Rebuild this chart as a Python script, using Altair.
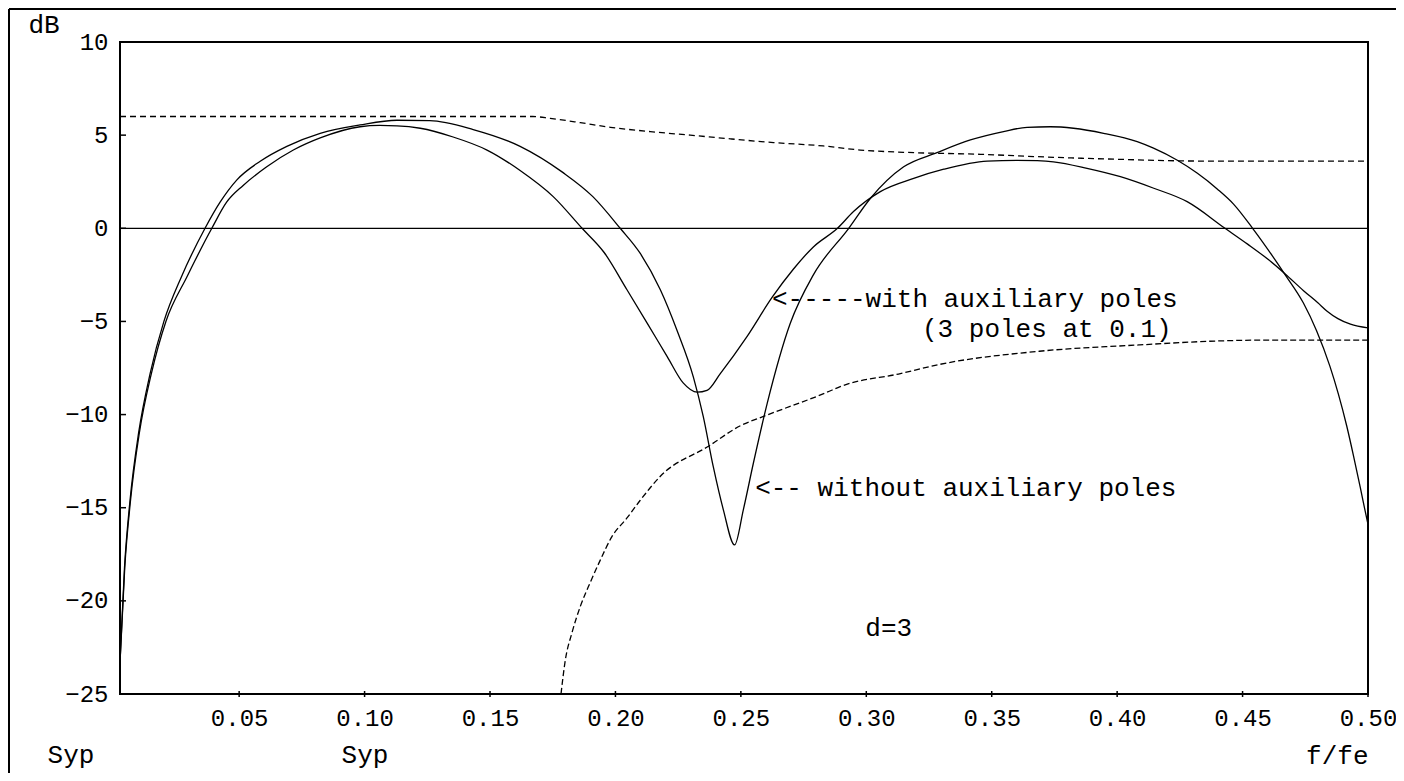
import altair as alt
import pandas as pd

# ---- data -------------------------------------------------------------------
# "with auxiliary poles" response (shallow dip near 0.233)
A_f = [0.0025, 0.0044, 0.0067, 0.0102, 0.0150, 0.0208, 0.0292, 0.0391, 0.0450,
       0.0516, 0.0610, 0.0716, 0.0823, 0.0982, 0.1060, 0.1129, 0.1222, 0.1353, 0.1488,
       0.1620, 0.1752, 0.1867, 0.1955, 0.2046, 0.2127, 0.2207, 0.2270, 0.2326, 0.2365,
       0.2418, 0.2525, 0.2625, 0.2709, 0.2789, 0.2885, 0.2949, 0.3056, 0.3189, 0.3309,
       0.3482, 0.3600, 0.3681, 0.3746, 0.3880, 0.4013, 0.4146, 0.4279, 0.4430, 0.4520,
       0.4600, 0.4670, 0.4743, 0.4800, 0.4837, 0.4880, 0.4930, 0.5000]
A_db = [-23.3, -18.2, -14.6, -11.0, -7.8, -5.0, -2.6, 0.0, 1.4,
        2.3, 3.3, 4.2, 4.85, 5.45, 5.52, 5.5, 5.37, 4.9, 4.2,
        3.1, 1.7, 0.0, -1.3, -3.3, -5.1, -6.9, -8.3, -8.8, -8.7,
        -7.8, -5.8, -3.7, -2.2, -1.0, 0.0, 0.9, 1.97, 2.68, 3.17,
        3.61, 3.65, 3.63, 3.57, 3.22, 2.77, 2.15, 1.43, 0.0, -0.85,
        -1.65, -2.45, -3.35, -4.0, -4.45, -4.85, -5.15, -5.35]

# "without auxiliary poles" response (deep notch near 0.248)
B_f = [0.0025, 0.0043, 0.0065, 0.0099, 0.0145, 0.0200, 0.0270, 0.0364, 0.0424,
       0.0491, 0.0584, 0.0690, 0.0823, 0.0982, 0.1129, 0.1260, 0.1433, 0.1620, 0.1790,
       0.1910, 0.2019, 0.2099, 0.2179, 0.2246, 0.2311, 0.2350, 0.2390, 0.2430, 0.2475,
       0.2510, 0.2550, 0.2605, 0.2697, 0.2789, 0.2930, 0.3016, 0.3149, 0.3282, 0.3415,
       0.3547, 0.3641, 0.3733, 0.3826, 0.3946, 0.4080, 0.4145, 0.4240, 0.4320, 0.4400,
       0.4464, 0.4540, 0.4670, 0.4742, 0.4795, 0.4848, 0.4882, 0.4915, 0.4942, 0.4969,
       0.4989, 0.5000]
B_db = [-23.3, -18.2, -14.6, -11.0, -7.8, -5.0, -2.6, 0.0, 1.4,
        2.6, 3.6, 4.4, 5.1, 5.55, 5.8, 5.78, 5.3, 4.4, 3.0,
        1.7, 0.0, -1.35, -3.3, -5.5, -8.0, -10.1, -12.8, -15.1, -17.0,
        -15.1, -12.6, -9.4, -5.1, -2.5, 0.0, 1.6, 3.3, 4.06, 4.74,
        5.19, 5.42, 5.45, 5.37, 5.1, 4.65, 4.3, 3.65, 2.95, 2.1,
        1.3, 0.0, -2.5, -4.0, -5.5, -7.4, -8.9, -10.6, -12.2, -13.9,
        -15.2, -15.9]

# upper dashed limit
U_f = [0.0025, 0.1670, 0.1740, 0.1860, 0.1980, 0.2139, 0.2298, 0.2458, 0.2630, 0.2828,
       0.2976, 0.3148, 0.3455, 0.3746, 0.4013, 0.4320, 0.5000]
U_db = [6.0, 6.0, 5.9, 5.67, 5.42, 5.19, 5.0, 4.8, 4.6, 4.42,
        4.2, 4.08, 3.97, 3.81, 3.70, 3.61, 3.6]

# lower dashed limit
L_f = [0.1783, 0.1800, 0.1827, 0.1860, 0.1900, 0.1940, 0.1986, 0.2046, 0.2099, 0.2180,
       0.2371, 0.2498, 0.2590, 0.2844, 0.2896, 0.3136, 0.3295, 0.3690, 0.4090, 0.4400,
       0.4600, 0.5000]
L_db = [-25.0, -23.2, -21.7, -20.3, -19.0, -17.8, -16.55, -15.55, -14.6, -13.3,
        -11.7, -10.6, -10.1, -8.8, -8.5, -7.8, -7.3, -6.6, -6.26, -6.05,
        -6.0, -6.0]

X_TICKS = [0.05, 0.10, 0.15, 0.20, 0.25, 0.30, 0.35, 0.40, 0.45, 0.50]
Y_TICKS = [10, 5, 0, -5, -10, -15, -20, -25]

ANNOT_TEXT = ["<-----with auxiliary poles", "(3 poles at 0.1)",
              "<-- without auxiliary poles", "d=3"]
ANNOT_F = [0.2624, 0.3222, 0.2557, 0.2996]
ANNOT_DB = [-3.81, -5.42, -13.96, -21.45]

FOOT_TEXT = ["Syp", "Syp"]

# ---- layout / style ---------------------------------------------------------
W, H = 1248, 652
FONT = "Liberation Mono"
FS = 26
LFS = 24

xs = alt.Scale(domain=[0.0025, 0.5], nice=False, zero=False)
ys = alt.Scale(domain=[-25, 10], nice=False, zero=False)

x_axis = alt.Axis(values=X_TICKS, format=".2f", title="f/fe", ticks=False, domain=False,
                  grid=False, labelPadding=24, labelBaseline="middle", labelFlush=False,
                  labelOverlap=False, labelFont=FONT, labelFontSize=LFS, labelColor="black",
                  titleFont=FONT, titleFontSize=FS, titleFontWeight="normal",
                  titleColor="black", titleX=W, titleY=61, titleAlign="right",
                  titleBaseline="middle", titleAnchor="end")
y_axis = alt.Axis(values=Y_TICKS, format="d", title="dB", ticks=False, domain=False,
                  grid=False, labelPadding=12, labelAlign="right", labelBaseline="middle",
                  labelFlush=False, labelOverlap=False, labelFont=FONT, labelFontSize=LFS,
                  labelColor="black", titleFont=FONT, titleFontSize=FS,
                  titleFontWeight="normal", titleColor="black", titleAngle=0,
                  titleX=-92, titleY=-18, titleAlign="left", titleBaseline="middle")


def X(field):
    return alt.X(field, type="quantitative", scale=xs, axis=x_axis)


def Y(field):
    return alt.Y(field, type="quantitative", scale=ys, axis=y_axis)


def curve(fs, dbs, dash=None):
    df = pd.DataFrame({"f": fs, "db": dbs})
    kw = dict(color="black", strokeWidth=1.3, interpolate="monotone", clip=True)
    if dash:
        kw["strokeDash"] = dash
    return alt.Chart(df).mark_line(**kw).encode(x=X("f"), y=Y("db"), order="f:Q")


zero_line = alt.Chart(pd.DataFrame({"db": [0]})).mark_rule(
    color="black", strokeWidth=1.3).encode(y=Y("db"))

left_ticks = alt.Chart(pd.DataFrame({"db": Y_TICKS})).mark_rule(
    color="black", strokeWidth=1.5).encode(y=Y("db"), x=alt.value(0), x2=alt.value(6))

bottom_ticks = alt.Chart(pd.DataFrame({"f": X_TICKS})).mark_rule(
    color="black", strokeWidth=1.5).encode(x=X("f"), y=alt.value(H - 3), y2=alt.value(H + 3))

annots = alt.Chart(pd.DataFrame({"t": ANNOT_TEXT, "f": ANNOT_F, "db": ANNOT_DB})).mark_text(
    align="left", baseline="middle", font=FONT, fontSize=FS, color="black"
).encode(x=X("f"), y=Y("db"), text="t:N")

foot = alt.Chart(pd.DataFrame({"t": FOOT_TEXT, "px": [-49, 245]})).mark_text(
    align="center", baseline="middle", font=FONT, fontSize=FS, color="black"
).encode(x=alt.X("px:Q", scale=None, axis=None), y=alt.value(713), text="t:N")

frame_top = alt.Chart(pd.DataFrame({"k": [0]})).mark_rule(
    color="black", strokeWidth=2).encode(x=alt.value(-111), x2=alt.value(1276),
                                         y=alt.value(-33))
frame_left = alt.Chart(pd.DataFrame({"k": [0]})).mark_rule(
    color="black", strokeWidth=2).encode(x=alt.value(-111), y=alt.value(-33),
                                         y2=alt.value(740))

chart = alt.layer(
    zero_line,
    curve(U_f, U_db, [6, 4]),
    curve(L_f, L_db, [6, 3]),
    curve(A_f, A_db),
    curve(B_f, B_db),
    left_ticks,
    bottom_ticks,
    annots,
    foot,
    frame_top,
    frame_left,
).properties(
    width=W, height=H,
    autosize=alt.AutoSizeParams(type="none"),
    padding={"left": 112, "top": 34, "right": 28, "bottom": 79},
    background="white",
).configure_view(stroke="black", strokeWidth=2)

chart.save("out.html", embed_options={"renderer": "svg", "actions": False})
